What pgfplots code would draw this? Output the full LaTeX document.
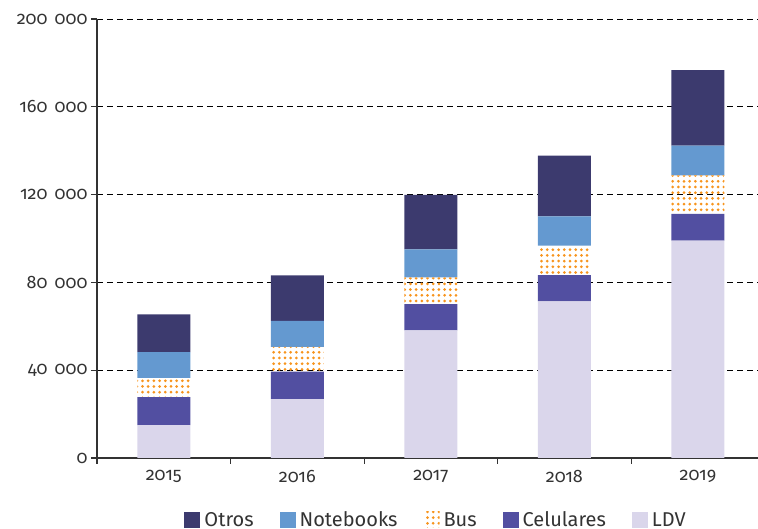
\documentclass[border=0pt]{standalone}
\usepackage{fontspec}
\setmainfont{Fira Sans}[Numbers=OldStyle]
\usepackage{pgfplots}
\usepackage{pgfplotstable}
\pgfplotsset{compat=1.18}
\usetikzlibrary{patterns.meta}

\definecolor{otros}{HTML}{3C3A6E}
\definecolor{notebooks}{HTML}{6499D0}
\definecolor{bus}{HTML}{F7941D}
\definecolor{celulares}{HTML}{524FA1}
\definecolor{ldv}{HTML}{DAD6EB}
\definecolor{txt}{HTML}{333333}

% x: 0=2015 ... 4=2019
\pgfplotstableread{
x ldv cel bus note otros
0 15000 12700 8800 11700 17200
1 26800 12600 11200 11900 20700
2 58100 12000 12200 12700 24900
3 71400 11900 13400 13400 27600
4 99000 12200 17600 13500 34400
}\datatable

\newcommand{\tl}[1]{\mbox{#1}}

\begin{document}
\begin{tikzpicture}
\begin{axis}[
  scale only axis,
  width=661pt, height=439pt,
  ybar stacked,
  bar width=53pt,
  xmin=-0.5, xmax=4.45,
  ymin=0, ymax=200000,
  scaled y ticks=false,
  axis lines*=left,
  axis line style={txt, line width=1.1pt},
  tick style={txt, line width=1.1pt},
  tick align=outside,
  major tick length=6pt,
  xtick={-0.5,0.5,1.5,2.5,3.5},
  xticklabels={},
  extra x ticks={0,1,2,3,4},
  extra x tick labels={\tl{2015},\tl{2016},\tl{2017},\tl{2018},\tl{2019}},
  extra x tick style={tick style={draw=none}},
  ytick={0,40000,80000,120000,160000,200000},
  yticklabels={\tl{0},\tl{40\hspace{0.4em}000},\tl{80\hspace{0.4em}000},\tl{120\hspace{0.4em}000},\tl{160\hspace{0.4em}000},\tl{200\hspace{0.4em}000}},
  ymajorgrids,
  grid style={black, dash pattern=on 6pt off 4pt, line width=0.9pt},
  tick label style={font=\fontsize{18}{20}\selectfont, text=txt},
  xticklabel style={yshift=-3pt},
  reverse legend,
  legend columns=-1,
  legend image code/.code={\path[#1] (0pt,-8pt) rectangle (16pt,8pt);},
  legend style={at={(0.513,-0.141)}, anchor=center, draw=none, fill=none,
    font=\fontsize{20}{22}\selectfont, text=txt,
    /tikz/every even column/.append style={column sep=24pt},
    /tikz/every odd column/.append style={column sep=2pt}},
]
\addplot[fill=ldv, draw=none] table[x=x, y=ldv] {\datatable};
\addplot[fill=celulares, draw=none] table[x=x, y=cel] {\datatable};
\addplot[pattern={Dots[radius=1.5pt, distance=5.7pt]}, pattern color=bus, draw=none] table[x=x, y=bus] {\datatable};
\addplot[fill=notebooks, draw=none] table[x=x, y=note] {\datatable};
\addplot[fill=otros, draw=none] table[x=x, y=otros] {\datatable};
\legend{LDV, Celulares, Bus, Notebooks, Otros}
\end{axis}
\pgfresetboundingbox
\path[use as bounding box] (-97pt,-71pt) rectangle (661pt,458pt);
\end{tikzpicture}
\end{document}
